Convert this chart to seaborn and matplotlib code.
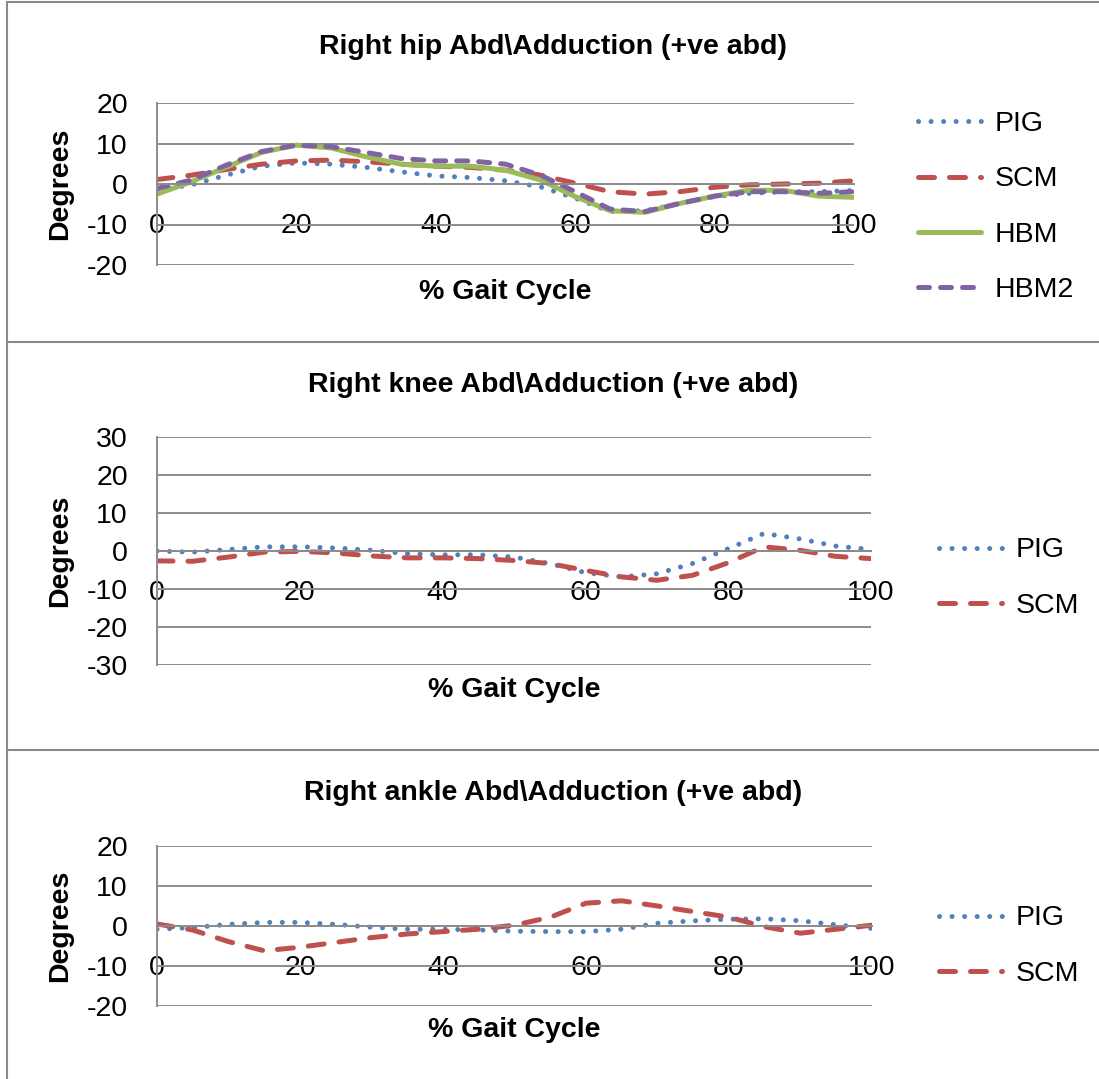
import matplotlib
matplotlib.use("Agg")
import matplotlib.pyplot as plt
from matplotlib.lines import Line2D
import seaborn as sns
import pandas as pd

# ---------------- data ----------------
gait_pct = [0, 5, 10, 15, 20, 25, 30, 35, 40, 45, 50, 55, 60, 65, 70, 75, 80, 85, 90, 95, 100]

hip_pig = [-1.5, -0.2, 2.2, 4.4, 5.2, 4.9, 4.1, 3.0, 2.0, 1.6, 0.8, -0.7, -3.5, -6.8, -6.6, -4.8, -3.1, -2.3, -1.9, -1.9, -1.6]
hip_scm = [1.1, 2.2, 3.6, 4.9, 5.7, 5.9, 5.5, 4.9, 4.4, 4.1, 3.4, 2.2, 0.2, -1.9, -2.5, -1.9, -0.8, -0.2, 0.0, 0.2, 0.8]
hip_hbm = [-2.5, 0.6, 4.2, 7.8, 9.6, 8.9, 6.7, 4.9, 4.4, 4.4, 3.4, 1.0, -3.1, -6.6, -7.0, -4.8, -3.0, -1.5, -1.6, -3.0, -3.3]
hip_hbm2 = [-1.1, 1.0, 4.7, 8.0, 9.6, 9.2, 7.8, 6.3, 5.7, 5.7, 4.9, 2.2, -1.9, -6.2, -6.8, -4.8, -3.0, -1.9, -1.9, -2.3, -1.9]

knee_pig = [0.0, -0.3, 0.4, 1.1, 1.1, 0.8, 0.2, -0.7, -1.0, -1.0, -1.6, -3.3, -5.7, -6.8, -6.0, -3.3, 0.6, 4.6, 3.2, 1.3, 0.4]
knee_scm = [-2.6, -2.7, -1.6, -0.3, -0.1, -0.5, -1.3, -1.8, -1.8, -2.0, -2.5, -3.3, -5.1, -6.8, -7.7, -6.4, -3.1, 1.1, 0.2, -1.4, -2.0]

ankle_pig = [-0.8, -0.4, 0.4, 0.9, 0.9, 0.4, -0.3, -0.8, -0.8, -1.0, -1.3, -1.4, -1.4, -0.8, 0.7, 1.3, 1.7, 1.8, 1.3, 0.3, -0.6]
ankle_scm = [0.5, -1.0, -3.9, -6.2, -5.3, -4.1, -2.9, -2.0, -1.4, -0.8, 0.2, 2.2, 5.7, 6.3, 5.0, 3.6, 2.2, -0.2, -1.8, -0.8, 0.2]

titles = ["Right hip Abd\\Adduction (+ve abd)",
          "Right knee Abd\\Adduction (+ve abd)",
          "Right ankle Abd\\Adduction (+ve abd)"]
x_ticks = [0, 20, 40, 60, 80, 100]

# ---------------- style ----------------
sns.set_theme(style="white")
plt.rcParams["font.family"] = ["Liberation Sans", "DejaVu Sans"]
plt.rcParams["axes.unicode_minus"] = False
plt.rcParams["text.color"] = "black"

W, H = 1099, 1079
FS = 20.5
GRID = "#8c8c8c"
colors = {"PIG": "#4F81BD", "SCM": "#C0504D", "HBM": "#9BBB59", "HBM2": "#8064A2"}
LW = 3.6
styles = {
    "PIG": dict(linestyle=(0, (0.01, 2.5)), dash_capstyle="round"),
    "SCM": dict(linestyle=(0, (3.2, 3.0)), dash_capstyle="round"),
    "HBM": dict(linestyle="-", solid_capstyle="round"),
    "HBM2": dict(linestyle=(0, (2.2, 2.2)), dash_capstyle="round"),
}

fig = plt.figure(figsize=(W / 100, H / 100), dpi=100)

def fx(px):
    return px / W

def fy(py):
    return 1 - py / H

panels = [
    dict(box=(2, 342), plot=(157, 854, 103, 265), ylim=20, title_y=47, xlab_y=292,
         series={"PIG": hip_pig, "SCM": hip_scm, "HBM": hip_hbm, "HBM2": hip_hbm2},
         leg=(918, 207)),
    dict(box=(342, 750), plot=(157, 871, 437, 665), ylim=30, title_y=385, xlab_y=690,
         series={"PIG": knee_pig, "SCM": knee_scm}, leg=(939, 578)),
    dict(box=(750, 1085), plot=(157, 872, 846, 1006), ylim=20, title_y=793, xlab_y=1030,
         series={"PIG": ankle_pig, "SCM": ankle_scm}, leg=(939, 946)),
]

for i, p in enumerate(panels):
    y0, y1 = p["box"]
    fig.add_artist(Line2D([fx(7), fx(7)], [fy(y0), fy(y1)], color="#8a8a8a", lw=1.5))
    fig.add_artist(Line2D([fx(7), fx(W + 5)], [fy(y0), fy(y0)], color="#8a8a8a", lw=1.5))

    l, r, t, b = p["plot"]
    ax = fig.add_axes([fx(l), fy(b), (r - l) / W, (b - t) / H])
    for name, vals in p["series"].items():
        df = pd.DataFrame({"x": gait_pct, "y": vals})
        sns.lineplot(data=df, x="x", y="y", ax=ax, color=colors[name], lw=LW,
                     label=name, **styles[name])
    lim = p["ylim"]
    ax.set_xlim(0, 100)
    ax.set_ylim(-lim, lim)
    ax.set_yticks(list(range(-lim, lim + 1, 10)))
    ax.set_xticks(x_ticks)
    ax.yaxis.grid(True, color=GRID, lw=1.4)
    ax.xaxis.grid(False)
    for s in ["top", "right"]:
        ax.spines[s].set_visible(False)
    ax.spines["left"].set_color(GRID)
    ax.spines["left"].set_linewidth(1.4)
    ax.spines["bottom"].set_position(("data", 0))
    ax.spines["bottom"].set_color(GRID)
    ax.spines["bottom"].set_linewidth(1.4)
    ax.tick_params(axis="x", length=0, pad=21, labelsize=FS, colors="black")
    ax.tick_params(axis="y", length=0, pad=21, labelsize=FS, colors="black")
    ax.set_axisbelow(True)

    ax.set_xlabel("% Gait Cycle", fontsize=FS, fontweight="bold", va="center", color="black")
    ax.set_ylabel("Degrees", fontsize=FS, fontweight="bold", va="center", color="black")
    ax.xaxis.set_label_coords(0.5, (b - p["xlab_y"]) / (b - t))
    ax.yaxis.set_label_coords((60 - l) / (r - l), 0.5)

    fig.text(fx(553), fy(p["title_y"]), titles[i], ha="center", va="center",
             fontsize=FS, fontweight="bold", color="black")

    lx, ly = p["leg"]
    leg = ax.legend(loc="center left", bbox_to_anchor=(fx(lx), fy(ly)),
                    bbox_transform=fig.transFigure, frameon=False, fontsize=FS,
                    handlelength=2.2, handletextpad=0.5, labelspacing=1.02,
                    borderpad=0, borderaxespad=0)
    for txt in leg.get_texts():
        txt.set_color("black")

fig.savefig("out.png", dpi=100, facecolor="white")
